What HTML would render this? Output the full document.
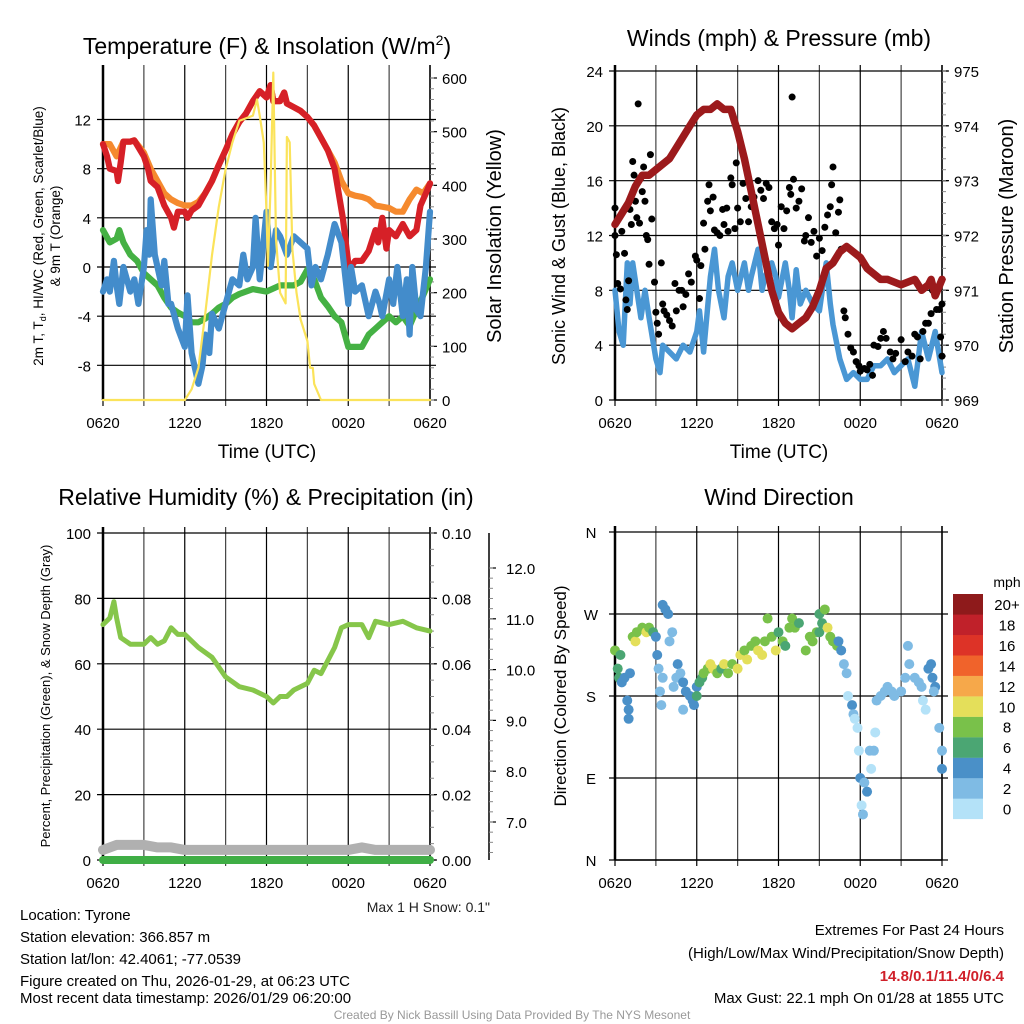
<!DOCTYPE html>
<html><head><meta charset="utf-8"><style>
html,body{margin:0;padding:0;background:#fff;}
svg{display:block;font-family:"Liberation Sans",Arial,sans-serif;}
</style></head><body>
<svg id="chart" width="1024" height="1024" viewBox="0 0 1024 1024">
<g id="grid"></g>
<g id="marks"></g>
<g id="texts">
<text x="267" y="54" font-size="23" text-anchor="middle">Temperature (F) &amp; Insolation (W/m<tspan font-size="14" dy="-9">2</tspan><tspan dy="9">)</tspan></text>
<text x="779" y="46" font-size="23" text-anchor="middle">Winds (mph) &amp; Pressure (mb)</text>
<text x="266" y="505" font-size="23" text-anchor="middle">Relative Humidity (%) &amp; Precipitation (in)</text>
<text x="779" y="505" font-size="23" text-anchor="middle">Wind Direction</text>
<text transform="translate(43,236) rotate(-90)" font-size="13.5" text-anchor="middle">2m T, T<tspan font-size="9" dy="3">d</tspan><tspan dy="-3">, HI/WC (Red, Green, Scarlet/Blue)</tspan></text>
<text transform="translate(60,236) rotate(-90)" font-size="13.5" text-anchor="middle">&amp; 9m T (Orange)</text>
<text transform="translate(501,236) rotate(-90)" font-size="20" text-anchor="middle">Solar Insolation (Yellow)</text>
<text x="267" y="458" font-size="19" text-anchor="middle">Time (UTC)</text>
<text transform="translate(565,236) rotate(-90)" font-size="18" text-anchor="middle">Sonic Wind &amp; Gust (Blue, Black)</text>
<text transform="translate(1013,236) rotate(-90)" font-size="20" text-anchor="middle">Station Pressure (Maroon)</text>
<text x="779" y="458" font-size="19" text-anchor="middle">Time (UTC)</text>
<text transform="translate(50,696) rotate(-90)" font-size="13" text-anchor="middle">Percent, Precipitation (Green), &amp; Snow Depth (Gray)</text>
<text transform="translate(566,696) rotate(-90)" font-size="17" text-anchor="middle">Direction (Colored By Speed)</text>
<text x="490" y="912" font-size="14" text-anchor="end" fill="#222">Max 1 H Snow: 0.1"</text>
<g font-size="15">
<text x="20" y="920">Location: Tyrone</text>
<text x="20" y="942">Station elevation: 366.857 m</text>
<text x="20" y="964">Station lat/lon: 42.4061; -77.0539</text>
<text x="20" y="986">Figure created on Thu, 2026-01-29, at 06:23 UTC</text>
<text x="20" y="1003">Most recent data timestamp: 2026/01/29 06:20:00</text>
</g>
<g font-size="15" text-anchor="end">
<text x="1004" y="935">Extremes For Past 24 Hours</text>
<text x="1004" y="958">(High/Low/Max Wind/Precipitation/Snow Depth)</text>
<text x="1004" y="981" fill="#d0202a" font-weight="bold">14.8/0.1/11.4/0/6.4</text>
<text x="1004" y="1003">Max Gust: 22.1 mph On 01/28 at 1855 UTC</text>
</g>
<text x="512" y="1019" font-size="12" fill="#999" text-anchor="middle">Created By Nick Bassill Using Data Provided By The NYS Mesonet</text>
<text x="1007" y="587" font-size="14" text-anchor="middle">mph</text>
</g>
</svg>
<script>
// ---------- data ----------
const timeLabels=["0620","1220","1820","0020","0620"];
const tempTicks=[-8,-4,0,4,8,12];
const insolTicks=[0,100,200,300,400,500,600];
const windTicks=[0,4,8,12,16,20,24];
const presTicks=[969,970,971,972,973,974,975];
const rhTicks=[0,20,40,60,80,100];
const precipTicks=["0.00","0.02","0.04","0.06","0.08","0.10"];
const snowTicks=[7,8,9,10,11,12];
const dirLabels=["N","E","S","W","N"];
const speedBins=["0","2","4","6","8","10","12","14","16","18","20+"];
const speedColors=["#b4e2f8","#7fbbe4","#4a90c8","#4ba673","#79c14a","#e4df5a","#f6a84a","#f0632b","#dd3327","#c0212a","#8e1a1b"];

const redT=[[0,10],[0.3,9],[0.5,8],[1,7.8],[1.1,7],[1.3,8.5],[1.5,10.2],[2,10.2],[2.3,10.3],[3,9],[3.3,8],[3.5,7],[4,6.5],[4.5,5],[5,4],[5.2,3.2],[5.5,4.5],[6,4.5],[6.2,4],[6.5,4.6],[7,5],[7.5,6],[8,7],[8.5,8.3],[9,9.5],[9.5,10.8],[10,11.8],[10.5,12.5],[11,13.5],[11.5,14.3],[12,13.8],[12.3,14.8],[12.5,13.5],[13,13.5],[13.3,14.2],[13.5,13.3],[14,13],[14.5,12.7],[15,12.2],[15.5,11.5],[16,10.5],[16.5,9.5],[17,8],[17.3,6],[17.6,4],[18,0.3],[18.2,0],[18.5,0.5],[19,0.5],[19.5,1.3],[20,3],[20.2,2],[20.5,4],[20.8,1.5],[21,3],[21.5,2.5],[22,3.5],[22.5,2.5],[23,3],[23.3,5],[23.7,6],[24,6.8]];
const orangeT=[[0,10],[0.5,10],[1,9],[1.5,10.2],[2,10.2],[2.3,10.3],[3,9.3],[3.5,8],[4,7],[4.5,6],[5,5.5],[5.5,5.2],[6,5],[6.5,5],[7,5.3],[7.5,6],[8,7],[8.5,8.3],[9,9.5],[9.5,10.8],[10,11.8],[10.5,12.5],[11,13.5],[11.5,14.3],[12,13.8],[12.3,14.8],[12.5,13.5],[13,13.5],[13.3,14.2],[13.5,13.3],[14,13],[14.5,12.7],[15,12.2],[15.5,11.5],[16,10.5],[16.5,9.5],[17,8.5],[17.5,7],[18,6],[18.5,5.8],[19,5.7],[19.5,5.5],[20,5],[21,4.8],[21.5,4.5],[22,4.5],[22.5,5.5],[23,6.3],[23.5,6],[24,6.8]];
const greenTd=[[0,3],[0.5,2],[1,2.3],[1.2,3],[1.5,2],[2,1],[2.5,0.5],[3,-0.5],[3.5,-1],[4,-1.5],[4.5,-2.5],[5,-3.3],[5.5,-3.7],[6,-4],[6.5,-4.5],[7,-4.5],[7.5,-4.2],[8,-3.8],[8.5,-3.3],[9,-3],[9.5,-2.5],[10,-2.2],[11,-1.8],[12,-2],[13,-1.5],[14,-1.5],[14.5,-1.2],[15,-0.2],[15.5,-1],[16,-2.5],[16.5,-3.2],[17,-4],[17.5,-4.5],[18,-6.5],[18.5,-6.5],[19,-6.5],[19.5,-5.5],[20,-5],[20.5,-4.5],[21,-4],[21.5,-4.5],[22,-4],[22.5,-4.8],[23,-3.5],[23.5,-2.3],[24,-1]];
const blueWC=[[0,-2],[0.3,-1],[0.5,-2],[0.8,0.5],[1,-1.5],[1.2,-3],[1.5,0],[2,-2],[2.3,-1],[2.6,-3],[3,0],[3.2,3],[3.4,1],[3.5,5.5],[3.8,1],[4,0],[4.3,-1.5],[4.5,0.5],[4.8,-3],[5,-3],[5.5,-5],[6,-6.5],[6.2,-2.3],[6.5,-7],[7,-9.5],[7.3,-8],[7.5,-5.5],[7.8,-7],[8,-3.8],[8.5,-5],[9,-3],[9.5,-1],[10,-1.5],[10.3,1],[10.6,-1],[11,0],[11.2,4],[11.5,-1],[12,4.5],[12.3,0],[12.7,3],[13,2.5],[13.5,1],[14,2.5],[14.5,2],[15,1.5],[15.3,-1.5],[15.6,0],[16,-1],[16.5,1],[17,3.5],[17.5,2],[17.7,0],[18,-3],[18.2,0],[18.5,-2],[19,-1.5],[19.5,-4],[20,-2],[20.3,-3],[20.5,-4],[21,-1],[21.3,-3],[21.6,0],[22,-4],[22.3,-1],[22.5,-5.5],[22.7,0],[23,-3.5],[23.3,-4],[23.7,0],[24,4.5]];
const insol=[[0,0],[6,0],[6.5,20],[7,60],[7.5,160],[8,270],[8.5,360],[9,430],[9.5,480],[10,520],[11,530],[11.3,560],[11.5,530],[11.8,480],[12,350],[12.1,250],[12.3,400],[12.5,610],[12.7,300],[13,200],[13.4,180],[13.5,490],[13.7,480],[13.9,280],[14.2,200],[14.5,150],[15,110],[15.2,60],[15.4,60],[15.5,30],[16,0],[24,0]];
const wind=[[0,8],[0.3,5],[0.6,4],[0.9,10],[1.1,7],[1.3,10],[1.6,8],[1.9,6],[2.2,8],[2.5,6],[3,3],[3.3,2],[3.5,4],[4,3.5],[4.5,3],[5,4],[5.5,3.5],[6,5],[6.2,6.5],[6.5,3.5],[7,9],[7.3,11],[7.6,8],[8,6],[8.3,9],[8.6,10],[9,8],[9.5,10],[9.8,8],[10,9],[10.5,11],[10.8,8],[11,9],[11.5,10],[11.8,9],[12,7.5],[12.5,10],[12.8,8],[13,6],[13.3,9.5],[13.6,7],[14,8],[14.5,7],[15,6.5],[15.5,10],[15.8,7],[16,5.5],[16.5,3],[17,1.5],[17.5,2],[18,1.5],[18.5,1.5],[19,2.5],[19.5,2.5],[20,3],[20.5,2],[21,2.5],[21.5,3],[22,1],[22.5,5],[23,3],[23.5,5],[24,2]];
const gusts=[[0,14],[0,12],[0.1,10.6],[0.2,8.5],[0.4,8.1],[0.5,12.3],[0.7,10.7],[0.8,7.3],[0.9,6.6],[1,8.7],[1.1,13.9],[1.2,12.8],[1.3,17.4],[1.4,16.4],[1.5,14.5],[1.6,13.3],[1.7,21.6],[1.8,12.9],[2,15.2],[2.1,17],[2.2,14.5],[2.3,12],[2.4,11.7],[2.5,9.9],[2.6,17.9],[2.7,13.2],[2.9,8.6],[3,6.4],[3.1,5.6],[3.2,4.8],[3.4,10],[3.5,7],[3.6,6.5],[3.8,6.2],[4,5.8],[4.2,5.4],[4.4,8.5],[4.5,6.5],[4.7,8],[4.9,8],[5,6.8],[5.2,7.7],[5.4,9.2],[5.6,8.6],[5.9,10.5],[6,10.2],[6.2,7.4],[6.3,9.8],[6.5,12.9],[6.6,11],[6.8,14.5],[6.9,15.7],[7,13.8],[7.2,14.8],[7.3,12.4],[7.5,12.2],[7.7,12],[7.9,13.9],[8,12.8],[8.2,14],[8.3,12.3],[8.5,16.2],[8.6,15.7],[8.8,12.5],[8.9,17.3],[9,14],[9.2,13],[9.4,15.8],[9.6,14.7],[9.8,13],[10,14.1],[10.2,14.8],[10.5,16],[10.7,15.3],[10.9,14.7],[11.1,15.8],[11.3,15.5],[11.5,13],[11.7,12.5],[11.9,12.8],[12,11.3],[12.2,14.1],[12.4,12.5],[12.6,13.8],[12.8,15.5],[12.9,15],[13,22.1],[13.1,16.1],[13.3,14],[13.5,14.5],[13.7,15.4],[13.9,11.6],[14,12],[14.2,13.3],[14.4,11.5],[14.6,12.3],[14.8,10.5],[15,11.8],[15.2,10.9],[15.4,12.6],[15.6,13.5],[15.8,14.1],[15.9,15.7],[16,17],[16.2,12.2],[16.4,13.7],[16.5,14.6],[16.6,11],[16.8,6.5],[16.9,6],[17.1,4.8],[17.3,3.8],[17.5,3.5],[17.7,2.8],[17.9,2.5],[18,2.1],[18.3,2.3],[18.5,2.2],[18.7,2.6],[18.9,1.8],[19,4],[19.3,3.9],[19.5,4.5],[19.7,5],[19.9,4.5],[20.2,3.5],[20.4,3],[20.6,3.4],[21,4.4],[21.3,2.8],[21.5,3.5],[21.8,3.2],[22,4.8],[22.2,4.6],[22.4,3],[22.6,5],[22.8,5.6],[23,5.6],[23.2,6.3],[23.3,8],[23.5,7.8],[23.6,6.6],[23.8,6.6],[24,7],[24,3.2],[23.9,4.6]];
const pressure=[[0,972.2],[0.5,972.4],[1,972.6],[1.5,972.9],[2,973.1],[2.5,973.1],[3,973.2],[3.5,973.3],[4,973.4],[4.5,973.6],[5,973.8],[5.5,974.0],[6,974.2],[6.5,974.3],[7,974.3],[7.5,974.4],[8,974.3],[8.5,974.3],[9,973.9],[9.5,973.4],[10,972.8],[10.5,972.2],[11,971.6],[11.5,971.0],[12,970.6],[12.5,970.4],[13,970.3],[13.5,970.4],[14,970.5],[14.5,970.7],[15,971.0],[15.5,971.4],[16,971.5],[16.5,971.7],[17,971.8],[17.5,971.7],[18,971.6],[18.5,971.4],[19,971.3],[19.5,971.2],[20,971.2],[21,971.1],[22,971.2],[22.5,971.0],[23,971.1],[23.2,971.2],[23.5,970.9],[24,971.2]];
const rh=[[0,72],[0.5,74],[0.8,79],[1,74],[1.3,68],[2,66],[3,66],[3.5,68],[4,66],[4.5,67],[5,71],[5.5,69],[6,69],[7,65],[8,62],[9,56],[10,53],[11,52],[12,50],[12.5,48],[13,50],[13.5,50],[14,52],[15,54],[15.5,58],[16,57],[17,65],[17.5,71],[18,72],[19,72],[19.5,68],[20,73],[21,72],[22,73],[23,71],[24,70]];
const precip=[[0,0],[24,0]];
const snowDepth=[[0,6.45],[1,6.55],[2,6.55],[3,6.55],[4,6.5],[5,6.5],[6,6.45],[12,6.45],[18,6.45],[19,6.5],[20,6.45],[24,6.45]];
const dirPts=[[0,230,7],[0.2,210,6],[0.3,200,5],[0.4,225,5],[0.5,195,4],[0.7,200,4],[0.9,175,4],[1,165,4],[1,155,4],[1.1,205,4],[1.3,245,7],[1.5,240,9],[1.6,250,7],[2,255,8],[2.3,250,9],[2.5,255,7],[2.8,250,6],[3,245,4],[3.1,225,4],[3.2,210,2],[3.3,185,2],[3.4,170,2],[3.5,200,2],[3.5,280,4],[3.7,275,4],[3.9,270,4],[4,240,2],[4.2,250,2],[4.3,190,2],[4.5,200,2],[4.6,215,4],[4.8,205,2],[5,195,4],[5.2,185,4],[5.5,180,4],[5.7,175,4],[5,165,2],[5.8,170,4],[6,190,4],[6,180,6],[6.2,195,6],[6.4,200,6],[6.5,205,8],[6.8,210,8],[7,215,10],[7.2,210,10],[7.5,205,8],[7.8,210,6],[8,215,10],[8.3,205,8],[8.6,215,8],[9,210,10],[9.2,225,10],[9.5,230,8],[9.7,220,10],[10,235,8],[10.3,240,8],[10.5,230,10],[10.8,225,10],[11,240,8],[11.2,265,8],[11.5,245,8],[11.8,230,10],[12,250,6],[12.3,240,8],[12.5,235,6],[12.8,255,8],[13,265,8],[13.2,255,8],[13.5,260,6],[14,230,8],[14.3,245,8],[14.5,240,8],[14.8,250,8],[15,250,6],[15,270,6],[15.2,260,6],[15.4,275,8],[15.6,255,10],[15.8,245,8],[16,240,8],[16.3,235,8],[16.4,240,4],[16.6,230,4],[16.8,215,2],[17,205,2],[17.1,180,0],[17.4,170,4],[17.5,160,2],[17.6,155,0],[17.8,145,0],[17.9,120,0],[18,90,4],[18.1,60,0],[18.2,50,2],[18.3,85,2],[18.5,75,4],[18.7,120,2],[18.8,100,0],[19,120,2],[19.1,140,0],[19.2,175,2],[19.5,180,2],[19.8,185,2],[20,190,2],[20.3,185,2],[20.5,180,2],[21,185,2],[21.3,200,2],[21.5,235,2],[21.6,215,2],[22,200,2],[22.3,195,2],[22.5,190,2],[22.6,175,0],[23,210,4],[23.2,215,4],[23.3,200,4],[23.5,190,4],[23.8,145,2],[24,120,2],[24,100,4],[23.4,185,2],[22.8,165,0]];

// ---------- helpers ----------
const NS="http://www.w3.org/2000/svg";
const gridG=document.getElementById('grid');
const marksG=document.getElementById('marks');
function mk(parent,tag,attrs,name,inter){
  const el=document.createElementNS(NS,tag);
  for(const k in attrs) el.setAttribute(k,attrs[k]);
  
  
  parent.appendChild(el);
  return el;
}
function txt(parent,x,y,s,size,anchor,name){
  const el=mk(parent,'text',{x:x,y:y,'font-size':size,'text-anchor':anchor||'middle'},name,false);
  el.textContent=s;
  return el;
}
function lin(d0,d1,r0,r1){return v=>r0+(v-d0)*(r1-r0)/(d1-d0);}
function polyline(parent,data,sx,sy,color,w,name){
  const pts=data.map(p=>sx(p[0]).toFixed(1)+','+sy(p[1]).toFixed(1)).join(' ');
  return mk(parent,'polyline',{points:pts,fill:'none',stroke:color,'stroke-width':w,'stroke-linejoin':'round','stroke-linecap':'round'},name,false);
}
function panelFrame(x0,x1,y0,y1,sy,ticks,fmt,name){
  const g=mk(gridG,'g',{},name+'-grid',false);
  const sx=lin(0,24,x0,x1);
  for(let h=0;h<=24;h+=3){
    mk(g,'line',{x1:sx(h),x2:sx(h),y1:y0-6,y2:y1+6,stroke:(h%6==0?'#000':'#444'),'stroke-width':1.2},'vertical-gridline',false);
  }
  ticks.forEach(t=>{
    mk(g,'line',{x1:x0-6,x2:x1+6,y1:sy(t),y2:sy(t),stroke:'#000','stroke-width':1.2},'horizontal-gridline',false);
    txt(g,x0-12,sy(t)+6,fmt(t),15,'end',name+'-y-tick-label');
  });
  mk(g,'line',{x1:x0,x2:x0,y1:y0-6,y2:y1,stroke:'#000','stroke-width':2.5},name+'-left-axis',false);
  mk(g,'line',{x1:x1,x2:x1,y1:y0-6,y2:y1,stroke:'#000','stroke-width':1.5},name+'-right-axis',false);
  mk(g,'line',{x1:x0,x2:x1,y1:y1,y2:y1,stroke:'#000','stroke-width':1.5},name+'-bottom-axis',false);
  timeLabels.forEach((l,i)=>txt(g,sx(i*6),y1+28,l,15,'middle',name+'-x-tick-label'));
  return sx;
}
function rightTicks(x,y0,y1,sy,ticks,fmt,name,minorStep,labelDx){
  const g=mk(gridG,'g',{},name,false);
  ticks.forEach((t,i)=>{
    mk(g,'line',{x1:x,x2:x+7,y1:sy(t),y2:sy(t),stroke:'#000','stroke-width':1.2},'major-tick',false);
    txt(g,x+(labelDx||12),sy(t)+6,fmt(t,i),15,'start',name+'-label');
  });
  if(minorStep){
    const lo=Math.min(sy(ticks[0]),sy(ticks[ticks.length-1]));
    const step=Math.abs(sy(ticks[1])-sy(ticks[0]))/minorStep;
    for(let y=lo;y<=y1+0.5;y+=step){
      mk(g,'line',{x1:x,x2:x+4,y1:y,y2:y,stroke:'#888','stroke-width':1},'minor-tick',false);
    }
  }
  return g;
}

// ---------- panel 1: temperature ----------
const tY=lin(0,12,267,119.5);
const sx1=panelFrame(103,430,71,400,tY,tempTicks,String,'temperature-panel');
const iY=lin(0,600,400,78);
rightTicks(430,71,400,iY,insolTicks,String,'insolation-axis',5);
polyline(marksG,orangeT,sx1,tY,'#f58a2e',6.2,'nine-m-temperature-line');
polyline(marksG,redT,sx1,tY,'#d62027',6.2,'two-m-temperature-line');
polyline(marksG,greenTd,sx1,tY,'#45b144',6.2,'dewpoint-line');
polyline(marksG,blueWC,sx1,tY,'#438ccb',6.2,'wind-chill-line');
polyline(marksG,insol,sx1,iY,'#fbe35a',2.2,'solar-insolation-line');

// ---------- panel 2: winds ----------
const wY=lin(0,24,400,71);
const sx2=panelFrame(615,942,71,400,wY,windTicks,String,'winds-panel');
const pY=lin(969,975,400,71);
rightTicks(942,71,400,pY,presTicks,String,'pressure-axis',5);
polyline(marksG,wind,sx2,wY,'#4a97d4',5.5,'sonic-wind-line');
const gg=mk(marksG,'g',{},'gust-points',false);
gusts.forEach(p=>{
  mk(gg,'circle',{cx:sx2(p[0]),cy:wY(p[1]),r:3.5,fill:'#000'},'gust-point',false);
});
polyline(marksG,pressure,sx2,pY,'#9c1a1c',7.5,'station-pressure-line');

// ---------- panel 3: humidity ----------
const hY=lin(0,100,860,533);
const sx3=panelFrame(103,430,533,860,hY,rhTicks,String,'humidity-panel');
rightTicks(430,533,860,hY,[0,20,40,60,80,100],(t,i)=>precipTicks[i],'precipitation-axis',4);
const sY=lin(7,12,822,568);
mk(gridG,'line',{x1:489,x2:489,y1:533,y2:860,stroke:'#000','stroke-width':1.5},'snow-depth-axis',false);
rightTicks(489,533,860,sY,snowTicks,t=>t.toFixed(1),'snow-depth-axis-ticks',5,17);
polyline(marksG,snowDepth,sx3,sY,'#b0b0b0',10,'snow-depth-line');
polyline(marksG,precip,sx3,hY,'#3fae45',8,'precipitation-line');
polyline(marksG,rh,sx3,hY,'#86c64a',5,'relative-humidity-line');

// ---------- panel 4: wind direction ----------
const dY=lin(0,360,860,532);
const sx4=panelFrame(615,942,532,860,dY,[],String,'direction-panel');
[0,90,180,270,360].forEach((d,i)=>{
  mk(gridG,'line',{x1:609,x2:948,y1:dY(d),y2:dY(d),stroke:'#000','stroke-width':1.2},'direction-gridline',false);
  txt(gridG,591,dY(d)+6,dirLabels[i],15,'middle','direction-tick-label');
});
const dg=mk(marksG,'g',{},'direction-points',false);
dirPts.forEach(p=>{
  const bin=Math.min(10,Math.max(0,Math.round(p[2]/2)));
  mk(dg,'circle',{cx:sx4(p[0]),cy:dY(p[1]),r:5,fill:speedColors[bin]},'direction-point',false);
});
const cb=mk(marksG,'g',{},'speed-colorbar',false);
speedBins.forEach((b,i)=>{
  const y=594+(10-i)*20.45;
  mk(cb,'rect',{x:953,y:y,width:30,height:20.6,fill:speedColors[i]},'colorbar-box',false);
  txt(cb,1007,y+16,b,15,'middle','colorbar-label');
});
</script>
</body></html>
